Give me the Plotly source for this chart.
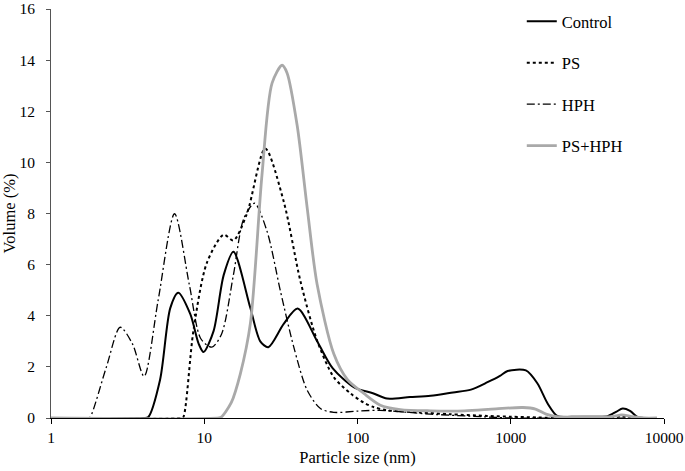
import plotly.graph_objects as go

# ---- data ----
control_x = [1, 4.0, 4.3, 5.15, 6.0, 6.76, 8.1, 9.2, 9.9, 11.5, 13.4, 15.5, 20, 23.2, 26.2, 33, 40.7, 55, 69, 95, 126, 156, 220, 300, 420, 550, 705, 850, 955, 1255, 1494, 1740, 2020, 2500, 3500, 4280, 4900, 5370, 6000, 6740, 7400]
control_y = [0, 0, 0.03, 1.5, 4.3, 4.9, 4.07, 2.9, 2.58, 3.4, 5.6, 6.5, 4.3, 3.0, 2.77, 3.68, 4.28, 2.96, 1.94, 1.2, 0.97, 0.76, 0.82, 0.87, 1.0, 1.11, 1.4, 1.65, 1.84, 1.86, 1.35, 0.57, 0.07, 0.05, 0.05, 0.07, 0.25, 0.37, 0.28, 0.03, 0]

ps_x = [1, 7.1, 7.3, 8.5, 10.4, 13.4, 15.5, 19, 25, 33, 42.4, 54.5, 70, 90, 110, 127, 156, 250, 400, 700, 1000, 1500, 2200, 4000, 5300, 6800, 7400]
ps_y = [0, 0, 0.03, 3.42, 6.07, 7.17, 6.95, 8.0, 10.54, 8.47, 5.36, 3.03, 1.6, 0.96, 0.6, 0.43, 0.3, 0.22, 0.15, 0.08, 0.05, 0.02, 0.0, 0.0, 0.06, 0.0, 0]

hph_x = [1, 1.75, 1.8, 2.3, 2.83, 3.4, 4.05, 5.0, 6.4, 8.0, 9.5, 11.2, 13.0, 15.5, 18.1, 21.3, 25.7, 31.4, 38.4, 46.9, 57.3, 70, 100, 140, 300, 650, 1000, 7400]
hph_y = [0, 0, 0.03, 2.0, 3.55, 2.9, 1.63, 4.6, 7.99, 5.2, 3.1, 2.77, 3.3, 5.6, 7.8, 8.4, 7.3, 4.97, 2.77, 1.09, 0.37, 0.22, 0.27, 0.3, 0.15, 0.05, 0.0, 0]

pshph_x = [1, 12.5, 12.9, 15, 17.2, 20, 23.8, 27.7, 32.2, 34.7, 40.4, 47, 54.5, 70, 86, 110, 141, 190, 300, 500, 800, 1200, 1450, 1700, 2000, 3000, 4500, 5300, 6200, 7400, 9000]
pshph_y = [0, 0, 0.03, 0.6, 1.73, 3.7, 9.5, 13.1, 13.8, 13.5, 11.44, 8.2, 5.23, 2.51, 1.5, 0.96, 0.5, 0.33, 0.28, 0.28, 0.36, 0.41, 0.35, 0.15, 0.05, 0.04, 0.05, 0.12, 0.05, 0.0, 0]

names = ["Control", "PS", "HPH", "PS+HPH"]
x_ticks = [1, 10, 100, 1000, 10000]
x_tick_labels = ["1", "10", "100", "1000", "10000"]
y_ticks = [0, 2, 4, 6, 8, 10, 12, 14, 16]

FONT = "Liberation Serif"

series = [
    (control_x, control_y, dict(color="black", width=2, dash="solid")),
    (ps_x, ps_y, dict(color="black", width=2, dash="dot")),
    (hph_x, hph_y, dict(color="black", width=1.3, dash="8px,3px,2px,3px")),
    (pshph_x, pshph_y, dict(color="#a9a9a9", width=2.8, dash="solid")),
]

fig = go.Figure()
for i, ((xs, ys, ln), nm) in enumerate(zip(series, names)):
    fig.add_trace(go.Scatter(
        x=xs, y=ys, name=nm, mode="lines",
        line=dict(shape="spline", smoothing=0.8, **ln),
        legendgroup=f"g{i}",
    ))

fig.update_layout(
    width=685, height=471,
    margin=dict(l=51, r=21, t=9, b=53, autoexpand=False),
    paper_bgcolor="white", plot_bgcolor="white",
    font=dict(family=FONT, size=15.5, color="black"),
    showlegend=True,
    legend=dict(
        x=0.768, y=1.012, xanchor="left", yanchor="top",
        traceorder="grouped", tracegroupgap=17,
        font=dict(family=FONT, size=16.5, color="black"),
        bgcolor="rgba(0,0,0,0)",
    ),
    xaxis=dict(
        type="log", range=[0, 4], automargin=False,
        tickvals=x_ticks, ticktext=x_tick_labels,
        showgrid=False, zeroline=False,
        showline=True, linecolor="black", linewidth=1,
        ticks="outside", ticklen=5, tickcolor="black",
        tickfont=dict(family=FONT, size=15.5),
        title=dict(text="Particle size (nm)", standoff=6, font=dict(family=FONT, size=16.5)),
    ),
    yaxis=dict(
        range=[0, 16], tickvals=y_ticks, automargin=False,
        showgrid=False, zeroline=False,
        showline=True, linecolor="#555555", linewidth=1,
        ticks="outside", ticklen=4, tickcolor="#555555",
        ticklabelstandoff=8, ticklabeloverflow="allow",
        tickfont=dict(family=FONT, size=15.5),
        title=dict(text="Volume (%)", standoff=4, font=dict(family=FONT, size=16.5)),
    ),
)

fig.write_html("out.html")
